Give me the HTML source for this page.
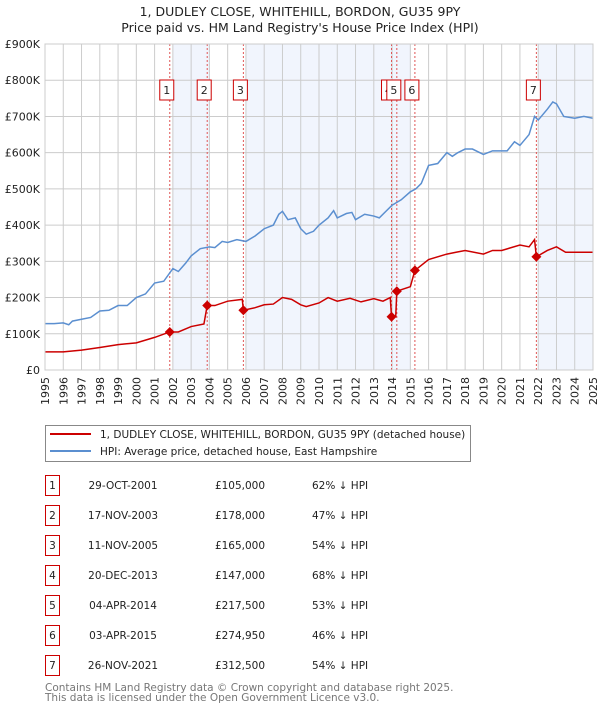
<!DOCTYPE html>
<html><head><meta charset="utf-8"><style>
body{margin:0;background:#fff;width:600px;height:710px;overflow:hidden;font-family:"DejaVu Sans","Liberation Sans",sans-serif}
svg text{font-family:"DejaVu Sans","Liberation Sans",sans-serif}
</style></head><body>
<svg id="chart" width="600" height="710" xmlns="http://www.w3.org/2000/svg">
<text x="300" y="16" text-anchor="middle" font-size="12.5" fill="#222">1, DUDLEY CLOSE, WHITEHILL, BORDON, GU35 9PY</text>
<text x="300" y="32" text-anchor="middle" font-size="12.5" fill="#222">Price paid vs. HM Land Registry's House Price Index (HPI)</text>
<g id="bands"></g><g id="grid"></g><g id="vlines"></g><g id="series"></g><g id="axes"></g>
<g>
<rect x="45.5" y="425.5" width="425" height="36" fill="#fff" stroke="#888"/>
<line x1="50" y1="434" x2="91" y2="434" stroke="#cc0000" stroke-width="2"/>
<text x="100" y="438" font-size="10.5" fill="#222">1, DUDLEY CLOSE, WHITEHILL, BORDON, GU35 9PY (detached house)</text>
<line x1="50" y1="451" x2="91" y2="451" stroke="#5b8fd0" stroke-width="2"/>
<text x="100" y="455" font-size="10.5" fill="#222">HPI: Average price, detached house, East Hampshire</text>
</g>
<g id="table"></g>
<text x="45" y="691" font-size="10.5" fill="#777">Contains HM Land Registry data © Crown copyright and database right 2025.</text>
<text x="45" y="701" font-size="10.5" fill="#777">This data is licensed under the Open Government Licence v3.0.</text>
</svg>
<script>
const hpiYears=[1995,1995.5,1996,1996.3,1996.5,1997,1997.5,1998,1998.5,1999,1999.5,2000,2000.5,2001,2001.5,2002,2002.3,2002.7,2003,2003.5,2004,2004.3,2004.7,2005,2005.5,2006,2006.5,2007,2007.5,2007.8,2008,2008.3,2008.7,2009,2009.3,2009.7,2010,2010.5,2010.8,2011,2011.5,2011.8,2012,2012.5,2013,2013.3,2013.7,2014,2014.5,2015,2015.3,2015.6,2016,2016.5,2017,2017.3,2017.6,2018,2018.4,2019,2019.5,2020,2020.3,2020.7,2021,2021.5,2021.8,2022,2022.5,2022.8,2023,2023.4,2024,2024.5,2025];
const hpiValues=[128,128,130,125,135,140,145,163,165,178,178,200,210,240,245,280,272,295,315,335,340,338,355,352,360,355,370,390,400,430,438,415,420,390,375,383,400,420,440,420,432,435,415,430,425,420,440,455,470,492,500,515,565,570,600,590,600,610,610,595,605,605,605,630,620,650,700,690,720,740,735,700,695,700,695];
const priceYears=[1995,1996,1997,1998,1999,2000,2001,2001.83,2002.3,2003,2003.7,2003.88,2004.3,2005,2005.8,2005.86,2006.5,2007,2007.5,2008,2008.5,2009,2009.3,2010,2010.5,2011,2011.7,2012.3,2013,2013.5,2013.9,2013.97,2014.2,2014.26,2015,2015.25,2016,2017,2017.5,2018,2019,2019.5,2020,2021,2021.5,2021.8,2021.9,2022.5,2023,2023.5,2024.5,2025];
const priceValues=[50,50,55,62,70,75,90,105,105,120,127,178,178,190,195,165,172,180,182,200,195,180,175,185,200,190,198,188,197,190,200,147,147,217.5,230,275,305,320,325,330,320,330,330,345,340,360,312.5,330,340,325,325,325];
const saleLabels=["1","2","3","4","5","6","7"];
const saleYears=[2001.83,2003.88,2005.86,2013.97,2014.26,2015.25,2021.9];
const saleValues=[105,178,165,147,217.5,274.95,312.5];
const saleDates=["29-OCT-2001","17-NOV-2003","11-NOV-2005","20-DEC-2013","04-APR-2014","03-APR-2015","26-NOV-2021"];
const salePrices=["£105,000","£178,000","£165,000","£147,000","£217,500","£274,950","£312,500"];
const saleHpi=["62% ↓ HPI","47% ↓ HPI","54% ↓ HPI","68% ↓ HPI","53% ↓ HPI","46% ↓ HPI","54% ↓ HPI"];
const yTicks=[0,100,200,300,400,500,600,700,800,900];
const yTickLabels=["£0","£100K","£200K","£300K","£400K","£500K","£600K","£700K","£800K","£900K"];
const bandStarts=[2002,2006,2022];
const bandEnds=[2004,2015,2025];

const X0=45,X1=593,Y0=370,Y1=44;
const xs=y=>X0+(y-1995)/30*(X1-X0);
const ys=v=>Y0-v/900*(Y0-Y1);
const NS="http://www.w3.org/2000/svg";
function mk(tag,parent,attrs){const e=document.createElementNS(NS,tag);for(const k in attrs)e.setAttribute(k,attrs[k]);document.getElementById(parent).appendChild(e);return e;}

bandStarts.forEach((s,i)=>{const r=mk('rect','bands',{x:xs(s),y:Y1,width:xs(bandEnds[i])-xs(s),height:Y0-Y1,fill:'#eef3fc',opacity:0.8});

});
for(let yr=1995;yr<=2025;yr++){const x=xs(yr);
const l=mk('line','grid',{x1:x,y1:Y1,x2:x,y2:Y0,stroke:'#ccc','stroke-width':1});


const t=mk('text','axes',{x:0,y:0,transform:`translate(${x+4},${Y0+35}) rotate(-90)`,'font-size':11,fill:'#222'});t.textContent=yr;

}
yTicks.forEach((v,i)=>{const y=ys(v);
const l=mk('line','grid',{x1:X0,y1:y,x2:X1,y2:y,stroke:'#ccc','stroke-width':1});


const t=mk('text','axes',{x:40,y:y+4,'text-anchor':'end','font-size':11,fill:'#222'});t.textContent=yTickLabels[i];

});
const ax=mk('rect','axes',{x:X0,y:Y1,width:X1-X0,height:Y0-Y1,fill:'none',stroke:'#ccc'});



saleYears.forEach((s,i)=>{const x=xs(s);
const l=mk('line','vlines',{x1:x,y1:Y1,x2:x,y2:Y0,stroke:'#e05555','stroke-width':1,'stroke-dasharray':'2,2'});

});

const hp=mk('polyline','series',{points:hpiYears.map((y,i)=>xs(y)+','+ys(hpiValues[i])).join(' '),fill:'none',stroke:'#5b8fd0','stroke-width':1.5});


const pp=mk('polyline','series',{points:priceYears.map((y,i)=>xs(y)+','+ys(priceValues[i])).join(' '),fill:'none',stroke:'#cc0000','stroke-width':1.5});


saleYears.forEach((s,i)=>{const x=xs(s),y=ys(saleValues[i]);
const d=mk('polygon','series',{points:`${x},${y-5} ${x+5},${y} ${x},${y+5} ${x-5},${y}`,fill:'#cc0000'});


const r=mk('rect','series',{x:x-10,y:80,width:14,height:20,fill:'#fff',stroke:'#cc0000'});


const t=mk('text','series',{x:x-3,y:94,'text-anchor':'middle','font-size':11,fill:'#222'});t.textContent=saleLabels[i];

});

saleLabels.forEach((lab,i)=>{const y=475+i*30;
const r=mk('rect','table',{x:45.5,y:y+0.5,width:14,height:20,fill:'#fff',stroke:'#cc0000'});


const cells=[[52.5,lab,'middle','row-number'],[123,saleDates[i],'middle','sale-date'],[240,salePrices[i],'middle','sale-price'],[312,saleHpi[i],'start','hpi-comparison']];
cells.forEach(c=>{const t=mk('text','table',{x:c[0],y:y+14,'text-anchor':c[2],'font-size':10.5,fill:'#222'});t.textContent=c[1];

});});
</script>
</body></html>
